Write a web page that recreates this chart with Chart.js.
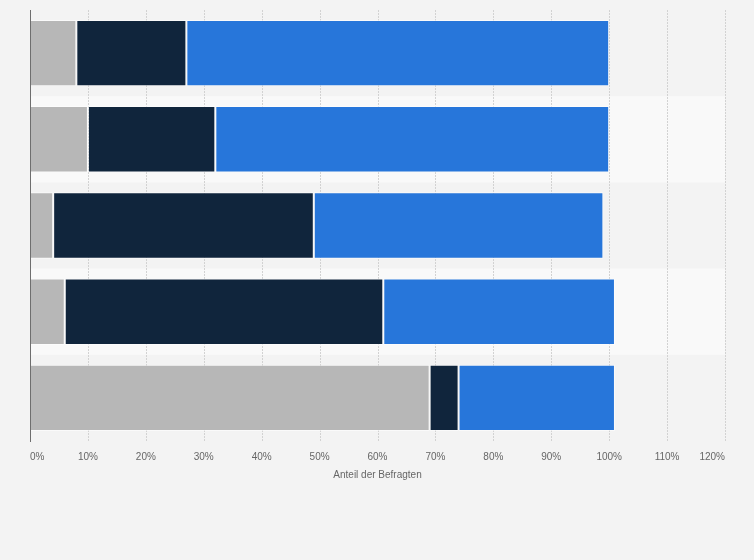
<!DOCTYPE html>
<html>
<head>
<meta charset="utf-8">
<script src="https://cdn.jsdelivr.net/npm/chart.js@4"></script>
<style>
  html, body { margin: 0; padding: 0; background: #f3f3f3; }
  #wrap { width: 754px; height: 560px; }
</style>
</head>
<body>
<div id="wrap"><canvas id="chart"></canvas></div>
<script>
// Werte in Prozent
const categories = ['1', '2', '3', '4', '5'];
const seriesGrey = [8, 10, 4, 6, 69];
const seriesDark = [19, 22, 45, 55, 5];
const seriesBlue = [73, 68, 50, 40, 27];
const xTicks = [0, 10, 20, 30, 40, 50, 60, 70, 80, 90, 100, 110, 120];

// alternating row bands behind everything
const bandPlugin = {
  id: 'bands',
  beforeDraw(chart) {
    const { ctx, chartArea, scales } = chart;
    const y = scales.y;
    const step = Math.abs(y.getPixelForValue(1) - y.getPixelForValue(0));
    ctx.save();
    categories.forEach((c, i) => {
      if (i % 2 === 1) {
        const mid = y.getPixelForValue(i);
        ctx.fillStyle = '#f9f9f9';
        ctx.fillRect(chartArea.left, mid - step / 2, chartArea.right - chartArea.left, step);
      }
    });
    ctx.restore();
  }
};

// dashed vertical grid, under the bars
const gridPlugin = {
  id: 'gridLines',
  beforeDatasetsDraw(chart) {
    const { ctx, chartArea, scales } = chart;
    ctx.save();
    ctx.strokeStyle = '#d2d2d2';
    ctx.lineWidth = 1;
    ctx.setLineDash([2, 1]);
    xTicks.forEach(v => {
      if (v === 0) return;
      const px = Math.round(scales.x.getPixelForValue(v)) + 0.5;
      ctx.beginPath();
      ctx.moveTo(px, chartArea.top);
      ctx.lineTo(px, chartArea.bottom);
      ctx.stroke();
    });
    ctx.restore();
  }
};

const barStyle = {
  borderColor: 'rgba(255,255,255,0.55)',
  borderWidth: 1,
  borderSkipped: false,
  barPercentage: 0.77,
  categoryPercentage: 1
};

new Chart(document.getElementById('chart'), {
  type: 'bar',
  data: {
    labels: categories,
    datasets: [
      Object.assign({ label: 'A', data: seriesGrey, backgroundColor: '#b7b7b7' }, barStyle),
      Object.assign({ label: 'B', data: seriesDark, backgroundColor: '#10253c' }, barStyle),
      Object.assign({ label: 'C', data: seriesBlue, backgroundColor: '#2776da' }, barStyle)
    ]
  },
  options: {
    indexAxis: 'y',
    responsive: true,
    maintainAspectRatio: false,
    animation: false,
    layout: { padding: { left: 30, right: 29, top: 10, bottom: 75 } },
    plugins: {
      legend: { display: false },
      tooltip: { enabled: false }
    },
    scales: {
      x: {
        stacked: true,
        min: 0,
        max: 120,
        afterBuildTicks(scale) {
          scale.ticks = xTicks.map(v => ({ value: v }));
        },
        grid: { display: false, drawTicks: false },
        border: { display: false },
        ticks: {
          align: 'inner',
          padding: 10,
          color: '#666',
          font: { family: 'Liberation Sans, Arial, sans-serif', size: 10 },
          callback: v => v + '%'
        },
        title: {
          display: true,
          text: 'Anteil der Befragten',
          color: '#666',
          padding: { top: -4, bottom: 4 },
          font: { family: 'Liberation Sans, Arial, sans-serif', size: 10 }
        }
      },
      y: {
        stacked: true,
        grid: { display: false, drawTicks: false },
        border: { display: true, color: '#6e6e6e', width: 1, z: 1 },
        ticks: { display: false }
      }
    }
  },
  plugins: [bandPlugin, gridPlugin]
});
</script>
</body>
</html>
